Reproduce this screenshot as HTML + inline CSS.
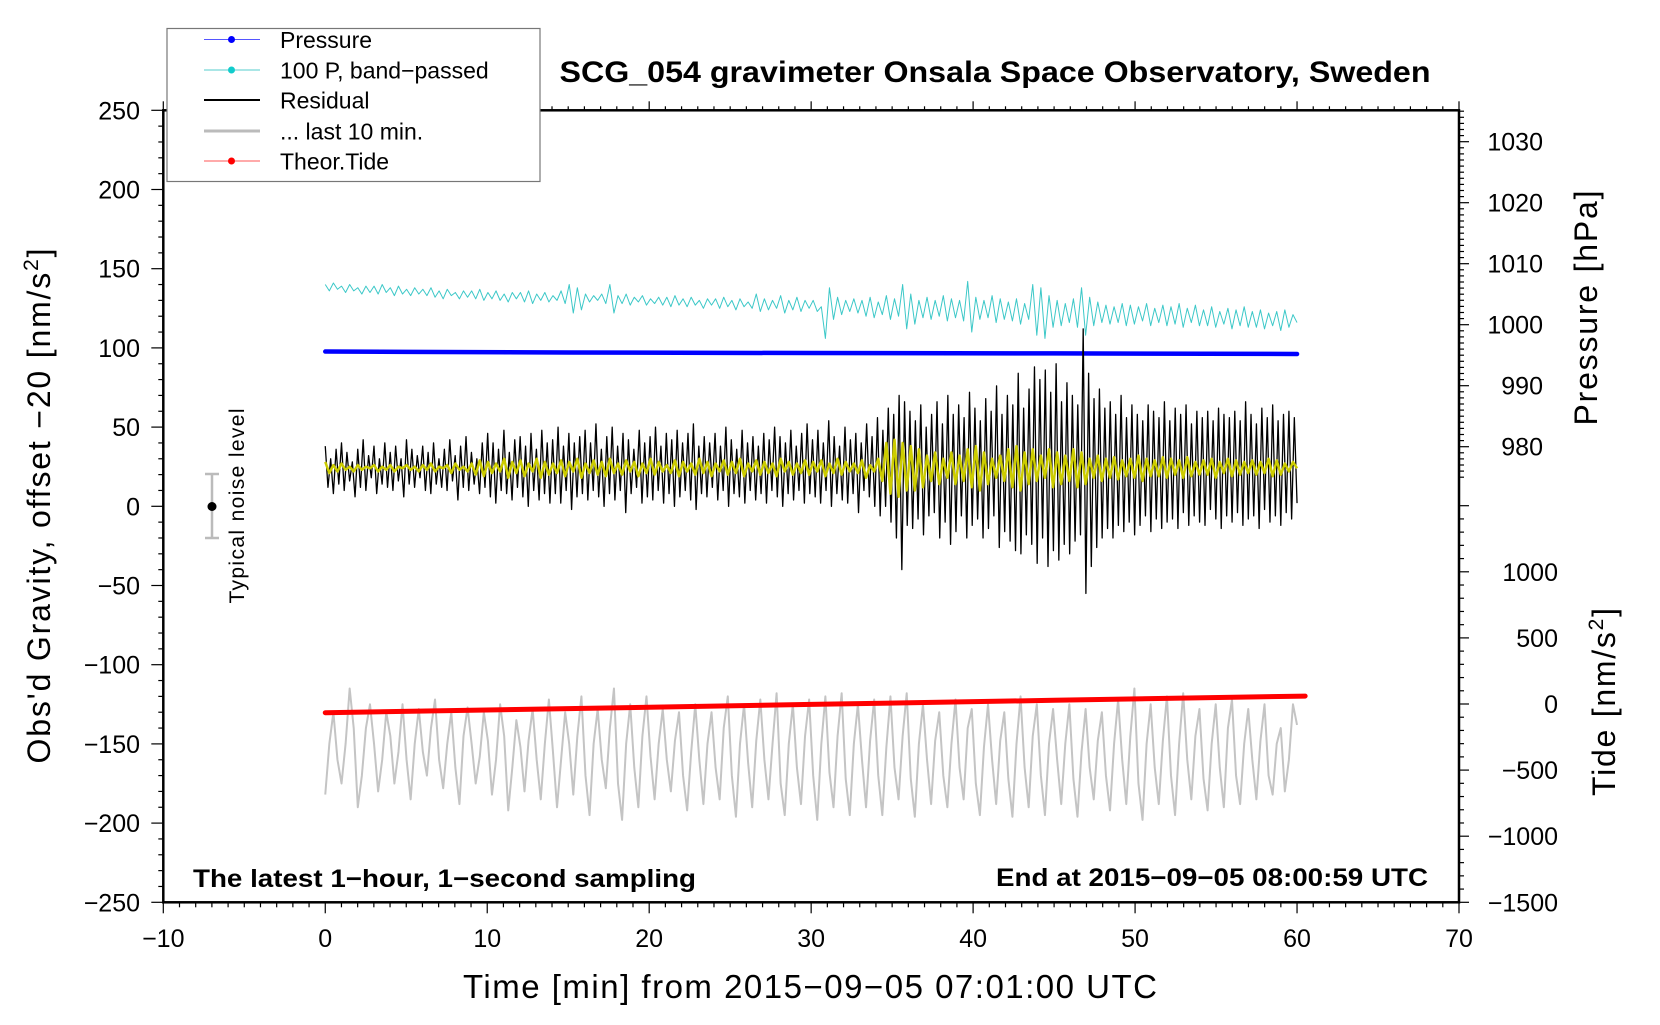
<!DOCTYPE html>
<html><head><meta charset="utf-8"><style>
html,body{margin:0;padding:0;background:#fff}
svg text{font-family:"Liberation Sans",Arial,sans-serif}
</style></head><body>
<svg id="chart" width="1660" height="1020" viewBox="0 0 1660 1020" xmlns="http://www.w3.org/2000/svg">
<rect x="0" y="0" width="1660" height="1020" fill="#fff"/>
<g id="series"></g>
<g id="axes"></g>
<text x="995" y="82" font-size="30" font-weight="bold" text-anchor="middle" textLength="871" lengthAdjust="spacingAndGlyphs">SCG_054 gravimeter Onsala Space Observatory, Sweden</text>
<text x="193" y="887" font-size="25" font-weight="bold" textLength="503" lengthAdjust="spacingAndGlyphs">The latest 1−hour, 1−second sampling</text>
<text x="1428" y="886" font-size="25" font-weight="bold" text-anchor="end" textLength="432" lengthAdjust="spacingAndGlyphs">End at 2015−09−05 08:00:59 UTC</text>
<text x="810" y="998" font-size="33" text-anchor="middle" textLength="694">Time [min] from 2015−09−05 07:01:00 UTC</text>
<text transform="translate(50,506) rotate(-90)" font-size="32" text-anchor="middle" textLength="515">Obs'd Gravity, offset −20 [nm/s<tspan dy="-12" font-size="21">2</tspan><tspan dy="12">]</tspan></text>
<text transform="translate(1597,308) rotate(-90)" font-size="32" text-anchor="middle" textLength="235">Pressure [hPa]</text>
<text transform="translate(1615,702) rotate(-90)" font-size="32" text-anchor="middle" textLength="188">Tide [nm/s<tspan dy="-12" font-size="21">2</tspan><tspan dy="12">]</tspan></text>
<g>
<line x1="212" y1="474" x2="212" y2="538" stroke="#bbb" stroke-width="2.5"/>
<line x1="205" y1="474" x2="219" y2="474" stroke="#bbb" stroke-width="2.5"/>
<line x1="205" y1="538" x2="219" y2="538" stroke="#bbb" stroke-width="2.5"/>
<circle cx="212" cy="506.5" r="4.5" fill="#000"/>
<text transform="translate(244,506) rotate(-90)" font-size="21" text-anchor="middle" textLength="195">Typical noise level</text>
</g>
<g>
<rect x="167" y="28.5" width="373" height="153" fill="#fff" stroke="#777" stroke-width="1.2"/>
<g><line x1="204" y1="39.5" x2="260" y2="39.5" stroke="#55f" stroke-width="1"/><circle cx="231.5" cy="39.5" r="3.5" fill="#00f"/><text x="280" y="48" font-size="23">Pressure</text></g>
<g><line x1="204" y1="70" x2="260" y2="70" stroke="#5cc" stroke-width="1"/><circle cx="231.5" cy="70" r="3.5" fill="#1cc"/><text x="280" y="78.5" font-size="23">100 P, band−passed</text></g>
<g><line x1="204" y1="100" x2="260" y2="100" stroke="#000" stroke-width="2"/><text x="280" y="108.5" font-size="23">Residual</text></g>
<g><line x1="204" y1="131" x2="260" y2="131" stroke="#bbb" stroke-width="3"/><text x="280" y="139.5" font-size="23">... last 10 min.</text></g>
<g><line x1="204" y1="161" x2="260" y2="161" stroke="#f55" stroke-width="1"/><circle cx="231.5" cy="161" r="3.5" fill="#f00"/><text x="280" y="169.5" font-size="23">Theor.Tide</text></g>
</g>
</svg>
<script>
// ---- data ----
const residual = [
38,12,30,8,36,14,40,10,34,16,28,6, 36,12,42,10,32,18,38,8,30,14,40,12,
34,10,38,16,30,6,42,14,36,12,32,18, 38,10,34,8,40,14,30,12,36,10,42,16,
32,4,38,12,44,10,34,14,30,8,40,12, 46,6,40,2,36,10,48,8,34,4,42,12,
44,6,38,0,46,10,36,4,48,8,40,2, 42,8,50,2,38,10,46,-2,40,6,44,8,
48,4,40,10,52,6,36,0,44,8,50,4, 38,10,46,-4,42,8,36,12,48,2,40,6,
44,4,50,10,38,2,46,8,42,0,48,6, 40,10,46,4,52,-2,38,8,44,6,40,12,
46,4,38,10,50,0,42,8,36,6,48,2, 40,10,44,4,38,8,46,2,42,10,50,6,
44,0,40,8,48,4,38,10,46,2,52,8, 42,6,48,2,40,10,54,0,44,8,38,4,
50,2,42,8,46,-4,40,10,52,6,44,0, 56,-6,48,0,62,-10,58,-20,70,-40,66,-12,
60,-14,54,-8,64,-18,50,-6,58,-4,66,-20, 52,-10,70,-24,58,-16,64,-6,56,-20,72,-12,
62,-8,54,-20,68,-14,60,-6,76,-26,58,-16, 70,-22,64,-28,84,-30,62,-18,74,-24,88,-36,
80,-20,86,-38,72,-28,90,-34,66,-24,78,-30, 70,-22,64,-18,112,-55,84,-38,68,-26,74,-20,
62,-14,66,-20,58,-12,70,-16,56,-10,64,-18, 58,-12,54,-6,64,-16,60,-8,56,-14,66,-10,
54,-8,62,-14,58,-4,64,-12,52,-6,60,-10, 56,-12,60,-2,54,-8,62,-14,58,-6,56,-10,
60,-4,54,-12,66,-8,58,-6,52,-14,62,-2, 56,-10,64,-6,54,-12,58,-4,60,-8,56,2];
const smoothed = [
28,21,26,22,27,23,25,22,26,23,25,24, 26,22,25,23,26,22,25,24,26,23,25,22,
26,23,27,22,25,24,26,21,27,23,25,22, 27,20,29,19,28,21,27,22,30,18,28,21,
29,19,27,22,30,18,28,20,27,21,29,19, 28,22,30,18,27,21,29,20,28,19,30,21,
27,20,29,22,28,19,27,21,30,20,28,22, 26,21,29,19,28,22,27,20,30,21,28,19,
27,22,29,20,28,21,30,19,27,22,29,20, 28,21,27,19,30,22,28,20,27,21,29,20,
28,22,29,19,27,21,30,20,28,22,27,21, 29,18,26,22,30,16,40,8,42,6,40,10,
38,10,36,12,32,16,34,14,30,18,34,14, 32,16,36,12,38,10,34,14,30,18,32,16,
36,12,38,10,34,14,36,16,32,18,36,12, 34,14,32,16,36,12,34,14,30,18,32,16,
30,18,31,17,29,19,30,18,32,16,30,19, 29,19,31,18,30,20,29,18,31,19,28,20,
29,20,30,18,28,21,30,19,29,20,28,21, 29,20,28,21,30,19,29,20,27,22,28,24];
const bandPassed = [
140,136,141,137,139,135,140,136,138,134,139,135, 139,134,140,135,138,133,139,134,137,133,138,134,
137,133,138,132,136,131,137,133,135,131,136,132, 136,131,137,130,135,131,136,130,134,129,135,131,
135,129,136,128,134,130,135,129,133,130,136,128, 140,122,138,124,134,129,133,130,134,128,140,122,
133,128,134,127,132,129,133,127,131,128,132,127, 132,126,133,127,131,126,132,127,130,125,131,127,
131,125,132,126,130,124,131,126,129,125,134,123, 131,124,130,125,133,122,130,124,132,123,130,125,
130,123,126,106,138,118,132,121,130,123,131,122, 130,120,132,119,129,121,133,118,131,120,140,112,
134,115,130,119,132,118,130,120,133,117,131,119, 130,117,142,110,132,118,130,119,133,116,131,118,
129,117,131,115,128,118,140,108,138,106,133,113, 130,114,128,116,131,113,138,108,132,114,129,116,
127,115,126,116,128,114,127,115,126,117,128,114, 125,116,127,114,126,115,128,113,125,116,127,114,
124,114,126,113,123,115,125,112,124,114,126,113, 123,113,124,112,122,114,123,111,124,113,121,116];
const last10 = [
-182,-150,-130,-160,-175,-150,-115,-140,-190,-170,-140,-125, -150,-180,-160,-130,-145,-175,-155,-125,-160,-185,-150,-128,
-155,-170,-140,-122,-160,-178,-150,-130,-165,-188,-145,-127, -150,-175,-158,-130,-148,-182,-160,-125,-145,-192,-165,-135,
-152,-180,-148,-128,-160,-185,-150,-122,-155,-190,-160,-130, -150,-182,-145,-120,-170,-195,-150,-128,-160,-178,-140,-115,
-175,-198,-150,-125,-165,-190,-145,-120,-158,-185,-150,-128, -160,-180,-148,-130,-170,-192,-155,-125,-160,-188,-150,-130,
-165,-185,-140,-120,-170,-196,-150,-125,-162,-190,-148,-122, -160,-185,-150,-118,-175,-195,-150,-125,-165,-188,-145,-122,
-170,-198,-150,-120,-168,-190,-145,-118,-172,-195,-150,-125, -160,-190,-148,-122,-170,-195,-152,-120,-165,-185,-145,-118,
-172,-196,-150,-125,-160,-188,-148,-130,-170,-190,-150,-122, -165,-185,-140,-128,-175,-195,-152,-125,-160,-188,-148,-130,
-172,-196,-150,-120,-165,-190,-145,-125,-170,-195,-150,-128, -160,-188,-150,-125,-172,-196,-155,-128,-165,-185,-148,-130,
-170,-192,-150,-122,-160,-188,-145,-115,-175,-198,-150,-125, -165,-188,-148,-120,-170,-195,-150,-118,-160,-185,-145,-128,
-172,-192,-150,-125,-165,-190,-140,-122,-170,-188,-150,-128, -160,-185,-148,-125,-170,-182,-150,-140,-180,-160,-125,-138];
const pressureTimes = [0, 5, 15, 30, 45, 60];
const pressureHPa = [995.6, 995.55, 995.45, 995.35, 995.3, 995.2];
const tideTimes = [0, 15, 30, 45, 60.5];
const tideValues = [-66, -35, -3, 28, 60];
const xTicks = [-10, 0, 10, 20, 30, 40, 50, 60, 70];
const yTicks = [-250, -200, -150, -100, -50, 0, 50, 100, 150, 200, 250];
const pTicks = [980, 990, 1000, 1010, 1020, 1030];
const tTicks = [-1500, -1000, -500, 0, 500, 1000];

// ---- scales ----
const X0 = 163.3, X1 = 1459, Y0 = 902.3, Y1 = 110.3;
const x = t => X0 + (t + 10) / 80 * (X1 - X0);
const yL = v => Y0 - (v + 250) / 500 * (Y0 - Y1);
const yP = h => 141.7 + (1030 - h) * 6.1;
const yT = v => 704 - v * 0.1322;
const NS = 'http://www.w3.org/2000/svg';
const S = document.getElementById('series');
const A = document.getElementById('axes');
function mk(tag, parent, at) { const e = document.createElementNS(NS, tag); for (const k in at) e.setAttribute(k, at[k]); parent.appendChild(e); return e; }
function path(arr, dt, fy, stroke, w, name) {
  let d = '';
  arr.forEach((v, i) => { d += (i ? 'L' : 'M') + x(i * dt).toFixed(2) + ' ' + fy(v).toFixed(2); });
  const p = mk('path', S, { d: d, fill: 'none', stroke: stroke, 'stroke-width': w, 'stroke-linejoin': 'round' });
  
  
}
function pathXY(ts, vs, fy, stroke, w, name) {
  let d = '';
  ts.forEach((t, i) => { d += (i ? 'L' : 'M') + x(t).toFixed(2) + ' ' + fy(vs[i]).toFixed(2); });
  const p = mk('path', S, { d: d, fill: 'none', stroke: stroke, 'stroke-width': w, 'stroke-linecap': 'round' });
  
  
}
path(last10, 60 / (last10.length - 1), yL, '#c4c4c4', 2, 'last-10-min-line');
pathXY(tideTimes, tideValues, yT, '#ff0000', 5, 'theor-tide-line');
path(bandPassed, 60 / (bandPassed.length - 1), yL, '#3cc8c8', 1, 'band-passed-pressure-line');
pathXY(pressureTimes, pressureHPa, yP, '#0000ff', 4.5, 'pressure-line');
path(residual, 60 / (residual.length - 1), yL, '#000', 1.3, 'residual-line');
path(smoothed, 60 / (smoothed.length - 1), yL, '#cccc00', 2.5, 'residual-smoothed-line');

// ---- axes ----
function ln(x1, y1, x2, y2, w, name) {
  const l = mk('line', A, { x1: x1, y1: y1, x2: x2, y2: y2, stroke: '#000', 'stroke-width': w });
  
  
}
function tx(xx, yy, s, anchor, name) {
  const t = mk('text', A, { x: xx, y: yy, 'font-size': 25, 'text-anchor': anchor });
  t.textContent = s;
  
  
}
const fmt = v => (v < 0 ? '−' + (-v) : '' + v);
mk('rect', A, { x: X0, y: Y1, width: X1 - X0, height: Y0 - Y1, fill: 'none', stroke: '#000', 'stroke-width': 2.5 });
for (let t = -10; t <= 70; t++) {
  const maj = t % 10 === 0;
  ln(x(t), Y0, x(t), Y0 + (maj ? 11 : 5), 1.2, 'x-tick');
  ln(x(t), Y1, x(t), Y1 - (maj ? 9 : 4), 1.2, 'x-top-tick');
}
xTicks.forEach(t => tx(x(t), 947, fmt(t), 'middle', 'x-tick-label'));
for (let v = -250; v <= 250; v += 10) {
  const maj = v % 50 === 0;
  ln(X0, yL(v), X0 - (maj ? 12 : 5), yL(v), 1.2, 'y-tick');
}
yTicks.forEach(v => tx(140, yL(v) + 9, fmt(v), 'end', 'y-tick-label'));
for (let h = 975; h <= 1035; h++) {
  const maj = h % 10 === 0;
  ln(X1, yP(h), X1 + (maj ? 10 : 5), yP(h), 1.2, 'pressure-tick');
}
pTicks.forEach(h => tx(1543, yP(h) + 9, '' + h, 'end', 'pressure-tick-label'));
for (let v = -1500; v <= 1500; v += 100) {
  const maj = v % 500 === 0;
  ln(X1, yT(v), X1 + (maj ? 10 : 5), yT(v), 1.2, 'tide-tick');
}
tTicks.forEach(v => tx(1558, yT(v) + 9, fmt(v), 'end', 'tide-tick-label'));
</script>
</body></html>
